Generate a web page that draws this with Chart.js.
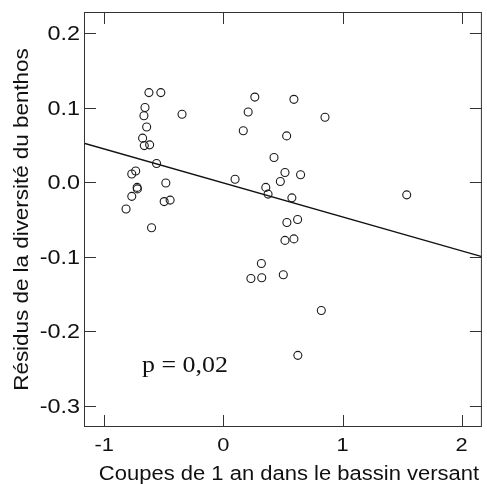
<!DOCTYPE html>
<html>
<head>
<meta charset="utf-8">
<script src="https://cdn.jsdelivr.net/npm/chart.js@4/dist/chart.umd.min.js"></script>
<style>
  html, body { margin: 0; padding: 0; background: #fff; }
  canvas { display: block; }
</style>
</head>
<body>
<canvas id="chart" width="487" height="484"></canvas>
<script>
// residus vs coupes de 1 an
const coupesX = [
  -0.625, -0.525, -0.658, -0.667, -0.347, -0.644, -0.678, -0.664, -0.619, -0.561,
  -0.736, -0.769, -0.724, -0.722, -0.483, -0.769, -0.497, -0.447, -0.817, -0.603,
  0.098, 0.167, 0.208, 0.264, 0.425, 0.356, 0.375, 0.592, 0.853, 0.531,
  0.517, 0.648, 0.478, 0.575, 0.533, 0.623, 0.517, 0.592, 0.319, 0.231,
  0.322, 0.503, 0.822, 0.625, 1.539
];
const residusY = [
  0.120, 0.120, 0.100, 0.089, 0.091, 0.074, 0.059, 0.049, 0.050, 0.025,
  0.015, 0.011, -0.007, -0.009, -0.001, -0.019, -0.026, -0.024, -0.036, -0.061,
  0.004, 0.069, 0.094, 0.114, 0.033, -0.007, -0.016, 0.111, 0.087, 0.062,
  0.013, 0.010, 0.001, -0.021, -0.054, -0.050, -0.078, -0.076, -0.109, -0.129,
  -0.128, -0.124, -0.172, -0.232, -0.017
];

// regression line
const fitIntercept = -0.001;
const fitSlope = -0.0455;

const xTickValues = [-1, 0, 1, 2];
const xTickLabels = ['-1', '0', '1', '2'];
const yTickValues = [-0.3, -0.2, -0.1, 0.0, 0.1, 0.2];
const yTickLabels = ['-0.3', '-0.2', '-0.1', '0.0', '0.1', '0.2'];

const xTitle = 'Coupes de 1 an dans le bassin versant';
const yTitle = 'Résidus de la diversité du benthos';
const pLabel = 'p = 0,02';

const xMin = -1.17, xMax = 2.17;
const yMin = -0.328, yMax = 0.228;

const points = coupesX.map((x, i) => ({ x: x, y: residusY[i] }));
const fitLine = [xMin, xMax].map(x => ({ x: x, y: fitIntercept + fitSlope * x }));

// text drawn a bit wider than Liberation Sans, like the original
function drawText(ctx, text, x, y, stretch, align, font, angle) {
    ctx.save();
    ctx.translate(x, y);
    if (angle) ctx.rotate(angle);
    ctx.scale(stretch, 1);
    ctx.font = font;
    ctx.textAlign = align;
    ctx.fillStyle = '#111';
    ctx.fillText(text, 0, 0);
    ctx.restore();
}

const framePlugin = {
    id: 'frame',
    afterDraw(chart) {
        const ctx = chart.ctx;
        const a = chart.chartArea;
        const sx = chart.scales.x;
        const sy = chart.scales.y;
        const tick = 12;

        ctx.save();
        ctx.strokeStyle = '#333';
        ctx.lineWidth = 1;
        ctx.strokeRect(a.left + 0.5, a.top + 0.5, a.right - a.left - 1, a.bottom - a.top - 1);

        ctx.beginPath();
        xTickValues.forEach(v => {
            const px = Math.round(sx.getPixelForValue(v)) + 0.5;
            ctx.moveTo(px, a.bottom);
            ctx.lineTo(px, a.bottom - tick);
            ctx.moveTo(px, a.top);
            ctx.lineTo(px, a.top + tick);
        });
        yTickValues.forEach(v => {
            const py = Math.round(sy.getPixelForValue(v)) + 0.5;
            ctx.moveTo(a.left, py);
            ctx.lineTo(a.left + tick, py);
            ctx.moveTo(a.right, py);
            ctx.lineTo(a.right - tick, py);
        });
        ctx.stroke();
        ctx.restore();

        ctx.save();
        ctx.textBaseline = 'alphabetic';
        xTickValues.forEach((v, i) => {
            drawText(ctx, xTickLabels[i], sx.getPixelForValue(v), a.bottom + 24, 1.15, 'center',
                '19px "Liberation Sans", Arial, sans-serif');
        });
        yTickValues.forEach((v, i) => {
            drawText(ctx, yTickLabels[i], a.left - 4, sy.getPixelForValue(v) + 7, 1.17, 'right',
                '20px "Liberation Sans", Arial, sans-serif');
        });

        drawText(ctx, xTitle, 289, 480, 1.1, 'center', '20px "Liberation Sans", Arial, sans-serif');
        drawText(ctx, yTitle, 28, (a.top + a.bottom) / 2, 1.12, 'center',
            '20px "Liberation Sans", Arial, sans-serif', -Math.PI / 2);

        drawText(ctx, pLabel, 142, 372, 1.08, 'left', '24px "Liberation Serif", "Times New Roman", serif');
        ctx.restore();
    }
};

new Chart(document.getElementById('chart'), {
    type: 'scatter',
    data: {
        datasets: [
            {
                label: 'residus',
                data: points,
                pointStyle: 'circle',
                pointRadius: 4,
                pointHoverRadius: 4,
                borderWidth: 1.1,
                borderColor: '#1a1a1a',
                backgroundColor: 'rgba(0,0,0,0)'
            },
            {
                label: 'regression',
                type: 'line',
                data: fitLine,
                showLine: true,
                pointRadius: 0,
                borderWidth: 1.4,
                borderColor: '#111',
                fill: false
            }
        ]
    },
    options: {
        responsive: false,
        animation: false,
        layout: { padding: { left: 0, top: 12, right: 4, bottom: 0 } },
        plugins: {
            legend: { display: false },
            tooltip: { enabled: false }
        },
        scales: {
            x: {
                type: 'linear',
                min: xMin,
                max: xMax,
                grid: { display: false },
                border: { display: false },
                ticks: { display: false },
                afterFit: s => { s.height = 57; }
            },
            y: {
                type: 'linear',
                min: yMin,
                max: yMax,
                grid: { display: false },
                border: { display: false },
                ticks: { display: false },
                afterFit: s => { s.width = 84; }
            }
        }
    },
    plugins: [framePlugin]
});
</script>
</body>
</html>
